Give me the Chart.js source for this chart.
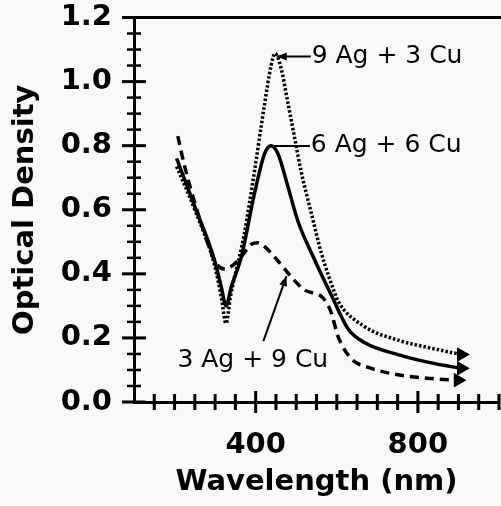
<!DOCTYPE html>
<html>
<head>
<meta charset="utf-8">
<script src="https://cdn.jsdelivr.net/npm/chart.js@4/dist/chart.umd.min.js"></script>
<style>
html,body{margin:0;padding:0;background:#f8f8f8;}
canvas{display:block;}
</style>
</head>
<body>
<canvas id="c" width="501" height="506"></canvas>
<script>
// ---- data ----
const seriesNames = ['9 Ag + 3 Cu', '6 Ag + 6 Cu', '3 Ag + 9 Cu'];

const wl9Ag3Cu = [205, 250, 298, 315, 327, 338, 372, 397, 422, 438, 448, 463, 480, 496, 512, 537, 562, 595, 603, 669, 751, 833, 907];
const od9Ag3Cu = [0.735, 0.60, 0.43, 0.33, 0.245, 0.33, 0.525, 0.72, 0.93, 1.05, 1.088, 1.04, 0.93, 0.825, 0.72, 0.59, 0.465, 0.34, 0.315, 0.235, 0.193, 0.168, 0.148];

const wl6Ag6Cu = [205, 250, 298, 315, 327, 340, 364, 397, 422, 438, 455, 480, 504, 545, 586, 628, 669, 751, 833, 907];
const od6Ag6Cu = [0.76, 0.61, 0.445, 0.36, 0.30, 0.36, 0.45, 0.65, 0.775, 0.80, 0.775, 0.67, 0.565, 0.445, 0.335, 0.228, 0.185, 0.148, 0.122, 0.105];

const wl3Ag9Cu = [208, 224, 260, 302, 323, 356, 389, 405, 422, 455, 488, 520, 566, 586, 603, 636, 685, 751, 833, 899];
const od3Ag9Cu = [0.83, 0.74, 0.58, 0.435, 0.415, 0.44, 0.492, 0.497, 0.485, 0.44, 0.39, 0.35, 0.325, 0.28, 0.205, 0.135, 0.105, 0.085, 0.073, 0.068];

const xTickLabels = [400, 800];
const yTickLabels = [0.0, 0.2, 0.4, 0.6, 0.8, 1.0, 1.2];

// annotation anchors, in data units (nm, optical density)
const noteTextWl = [538, 536, 207];
const noteTextOd = [1.078, 0.799, 0.131];
const noteTipWl = [452, 440, 476];
const noteTipOd = [1.078, 0.799, 0.393];
const noteTailWl = [536, 534, 419];
const noteTailOd = [1.078, 0.799, 0.19];
const noteArrow = [true, false, true];

// ---- build ----
const toPts = (xs, ys) => xs.map((x, i) => ({x: x, y: ys[i]}));
const lastOnly = (n, v) => (ctx) => ctx.dataIndex === n - 1 ? v : 0;

const near = (v, list) => list.some(t => Math.abs(t - v) < 1e-6);

const bgPlugin = {
  id: 'bg',
  beforeDraw(chart) {
    const c = chart.ctx;
    c.save();
    c.fillStyle = '#f8f8f8';
    c.fillRect(0, 0, chart.width, chart.height);
    c.restore();
  }
};

const frameTicksPlugin = {
  id: 'frameTicks',
  afterDraw(chart) {
    const c = chart.ctx;
    const xs = chart.scales.x, ys = chart.scales.y;
    const a = chart.chartArea;
    c.save();
    c.strokeStyle = '#000';
    c.lineCap = 'butt';
    // top frame line
    c.lineWidth = 3;
    c.beginPath();
    c.moveTo(a.left - 1, a.top);
    c.lineTo(chart.width, a.top);
    c.stroke();
    // y ticks crossing the axis
    ys.ticks.forEach(t => {
      const py = ys.getPixelForValue(t.value);
      const major = near(t.value, yTickLabels);
      const L = major ? 12 : 7;
      c.lineWidth = major ? 3 : 2.5;
      c.beginPath();
      c.moveTo(a.left - L, py);
      c.lineTo(a.left + L, py);
      c.stroke();
    });
    // x ticks crossing the axis
    xs.ticks.forEach(t => {
      if (t.value <= xs.min) return;
      const px = xs.getPixelForValue(t.value);
      const major = near(t.value, xTickLabels);
      const L = major ? 11 : 8;
      c.lineWidth = 3;
      c.beginPath();
      c.moveTo(px, a.bottom - L);
      c.lineTo(px, a.bottom + L);
      c.stroke();
    });
    c.restore();
  }
};

const notesPlugin = {
  id: 'notes',
  afterDatasetsDraw(chart) {
    const c = chart.ctx;
    const xs = chart.scales.x, ys = chart.scales.y;
    c.save();
    c.strokeStyle = '#000';
    c.fillStyle = '#000';
    c.font = '25px "DejaVu Sans"';
    c.textBaseline = 'middle';
    c.textAlign = 'left';
    seriesNames.forEach((name, i) => {
      const tx = xs.getPixelForValue(noteTipWl[i]), ty = ys.getPixelForValue(noteTipOd[i]);
      const lx = xs.getPixelForValue(noteTailWl[i]), ly = ys.getPixelForValue(noteTailOd[i]);
      c.lineWidth = 2;
      c.beginPath();
      c.moveTo(lx, ly);
      c.lineTo(tx, ty);
      c.stroke();
      if (noteArrow[i]) {
        const ang = Math.atan2(ty - ly, tx - lx);
        const len = 10, hw = 4;
        c.beginPath();
        c.moveTo(tx, ty);
        c.lineTo(tx - len * Math.cos(ang) + hw * Math.sin(ang), ty - len * Math.sin(ang) - hw * Math.cos(ang));
        c.lineTo(tx - len * Math.cos(ang) - hw * Math.sin(ang), ty - len * Math.sin(ang) + hw * Math.cos(ang));
        c.closePath();
        c.fill();
      }
      c.fillText(name, xs.getPixelForValue(noteTextWl[i]), ys.getPixelForValue(noteTextOd[i]));
    });
    c.restore();
  }
};

const common = {
  fill: false,
  borderColor: '#000',
  backgroundColor: '#000',
  borderWidth: 3.5,
  cubicInterpolationMode: 'monotone',
  borderCapStyle: 'butt',
  pointStyle: 'triangle',
  pointRotation: 90,
};

const chart = new Chart(document.getElementById('c'), {
  type: 'line',
  data: {
    datasets: [
      Object.assign({}, common, {
        label: seriesNames[0],
        data: toPts(wl9Ag3Cu, od9Ag3Cu),
        borderDash: [2.5, 2],
        pointRadius: lastOnly(wl9Ag3Cu.length, 5),
      }),
      Object.assign({}, common, {
        label: seriesNames[1],
        data: toPts(wl6Ag6Cu, od6Ag6Cu),
        pointRadius: lastOnly(wl6Ag6Cu.length, 5),
      }),
      Object.assign({}, common, {
        label: seriesNames[2],
        data: toPts(wl3Ag9Cu, od3Ag9Cu),
        borderDash: [9, 6],
        pointRadius: lastOnly(wl3Ag9Cu.length, 5),
      }),
    ]
  },
  options: {
    responsive: false,
    animation: false,
    devicePixelRatio: 1,
    layout: {autoPadding: false, padding: {top: 17.5, right: 2, left: 0, bottom: 0}},
    plugins: {legend: {display: false}, tooltip: {enabled: false}},
    elements: {point: {hoverRadius: 0}},
    scales: {
      x: {
        type: 'linear',
        min: 100, max: 1000,
        afterFit: s => { s.height = 104; s.paddingLeft = 0; s.paddingRight = 0; },
        grid: {display: true, drawOnChartArea: false, drawTicks: false},
        border: {display: true, color: '#000', width: 3},
        ticks: {
          stepSize: 50, autoSkip: false, maxRotation: 0, padding: 26,
          color: '#000',
          font: {family: '"DejaVu Sans"', weight: 'bold', size: 29},
          callback: v => near(v, xTickLabels) ? String(v) : ''
        },
        title: {
          display: true, text: 'Wavelength (nm)', color: '#000',
          font: {family: '"DejaVu Sans"', weight: 'bold', size: 29},
          padding: {top: 0, bottom: 6}
        }
      },
      y: {
        min: 0, max: 1.2,
        afterFit: s => { s.width = 134; s.paddingTop = 0; s.paddingBottom = 0; },
        grid: {display: true, drawOnChartArea: false, drawTicks: false},
        border: {display: true, color: '#000', width: 3},
        ticks: {
          stepSize: 0.05, autoSkip: false, padding: 22,
          color: '#000',
          font: {family: '"DejaVu Sans"', weight: 'bold', size: 29},
          callback: v => near(v, yTickLabels) ? v.toFixed(1) : ''
        },
        title: {
          display: true, text: 'Optical Density', color: '#000',
          font: {family: '"DejaVu Sans"', weight: 'bold', size: 29},
          padding: {top: 8, bottom: 0}
        }
      }
    }
  },
  plugins: [bgPlugin, notesPlugin, frameTicksPlugin]
});
</script>
</body>
</html>
